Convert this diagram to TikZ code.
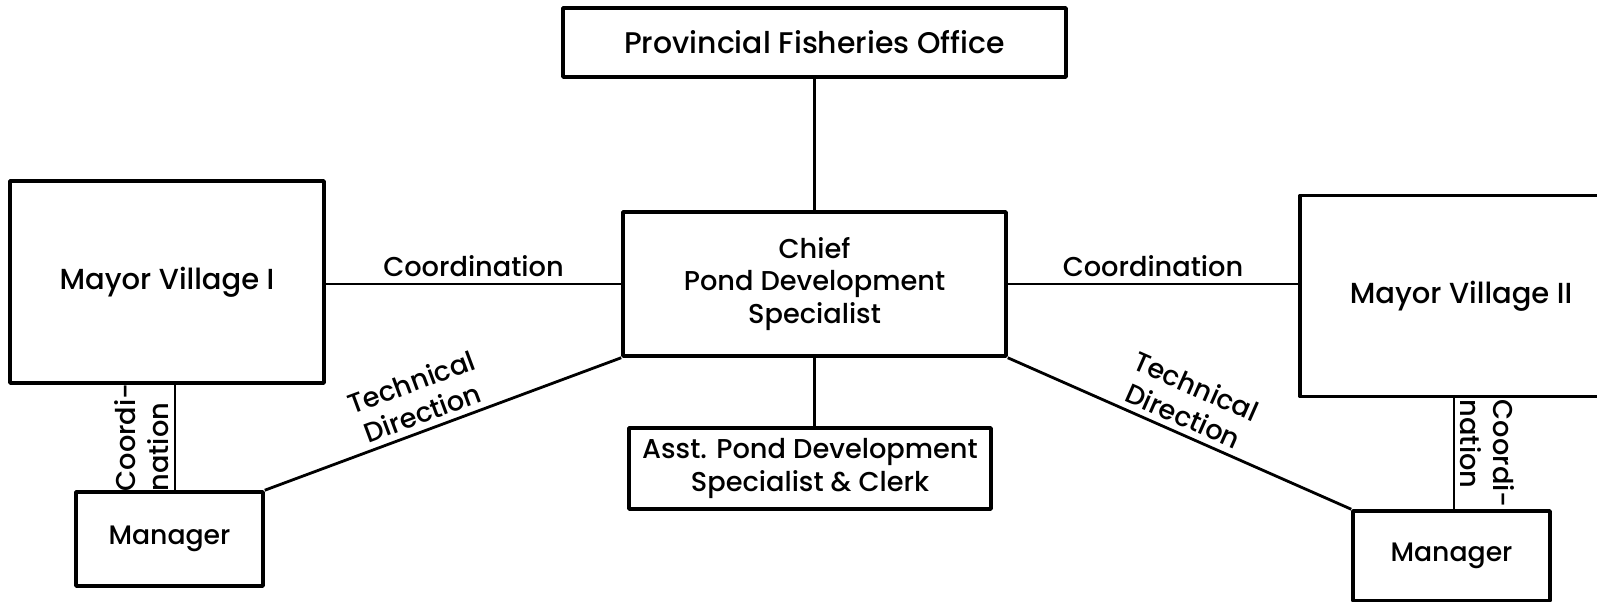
\documentclass[tikz,border=0pt]{standalone}
\usepackage{fontspec}
\setmainfont{Poppins}[UprightFont=* Medium]
\begin{document}
\begin{tikzpicture}[line width=1.6pt,line join=round,x=1cm,y=1cm,
    font=\fontsize{15.5}{18.5}\selectfont,
    office/.style={draw,line width=2pt,inner sep=2pt,align=center},
    vlabel/.style={midway,anchor=south,align=left,inner sep=3pt}]
  \useasboundingbox (0,0) rectangle (31.94,12.04);
  % offices
  \node[office,font=\fontsize{17}{20}\selectfont,minimum width=10.06cm,minimum height=1.38cm] (prov) at (16.29,11.19) {Provincial Fisheries Office};
  \node[office,minimum width=7.66cm,minimum height=2.88cm] (chief) at (16.29,6.36) {Chief\\Pond Development\\Specialist};
  \node[office,minimum width=7.24cm,minimum height=1.62cm] (asst) at (16.2,2.67) {Asst. Pond Development\\Specialist \& Clerk};
  \node[office,font=\fontsize{16.5}{19}\selectfont,minimum width=6.28cm,minimum height=4.04cm] (mayorA) at (3.34,6.4) {Mayor Village I};
  \node[office,font=\fontsize{15.2}{18}\selectfont,minimum width=3.74cm,minimum height=1.88cm] (managerA) at (3.39,1.26) {Manager};
  \node[office,font=\fontsize{16.5}{19}\selectfont,minimum width=6.44cm,minimum height=4.02cm] (mayorB) at (29.22,6.12) {Mayor Village II};
  \node[office,font=\fontsize{15.2}{18}\selectfont,minimum width=3.94cm,minimum height=1.8cm] (managerB) at (29.03,0.92) {Manager};
  % lines
  \draw (prov) -- (chief);
  \draw (chief.south) -- (chief.south |- asst.north);
  \draw (mayorA.east |- chief.west) -- node[above]{Coordination} (chief.west);
  \draw (chief.east) -- node[above]{Coordination} (chief.east -| mayorB.west);
  \draw (managerA.north east) -- node[sloped,above,pos=0.46,align=center]{Technical\\Direction} (chief.south west);
  \draw (chief.south east) -- node[sloped,above,pos=0.49,align=center]{Technical\\Direction} (managerB.north west);
  \draw ([xshift=1.1mm]managerA.north) -- node[vlabel,rotate=90]{Coordi-\\nation} ([xshift=1.1mm]managerA.north |- mayorA.south);
  \draw ([xshift=0.5mm]managerB.north |- mayorB.south) -- node[vlabel,rotate=-90]{Coordi-\\nation} ([xshift=0.5mm]managerB.north);
\end{tikzpicture}
\end{document}
